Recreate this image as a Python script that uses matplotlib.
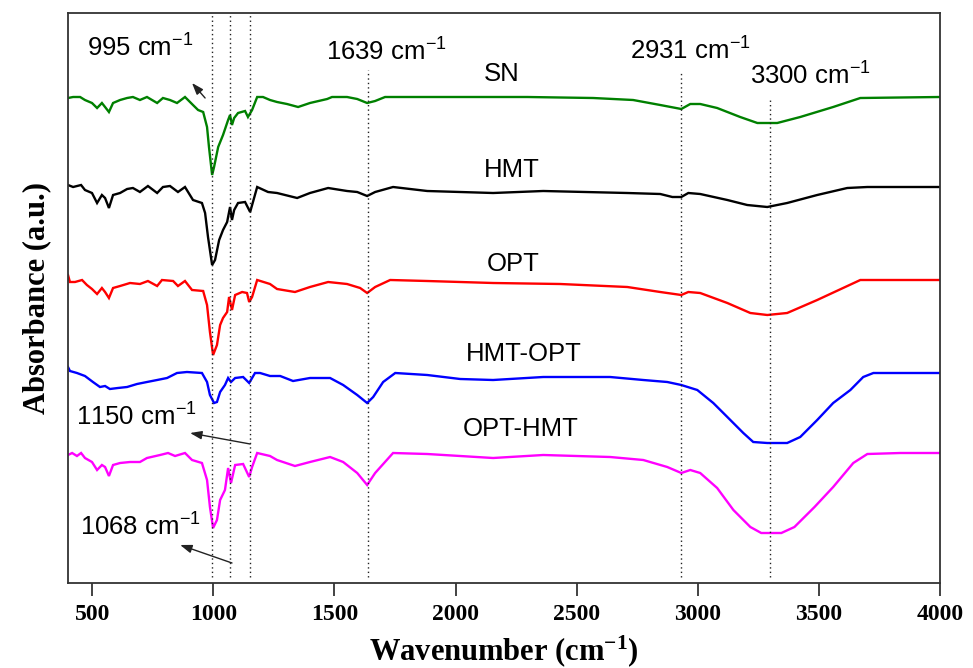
import matplotlib
matplotlib.use("Agg")
import matplotlib.pyplot as plt

# ---------------- data ----------------
SN_wn = [400,421,450,470,499,520,540,553,569,586,615,644,668,697,726,747,768,792,821,850,883,916,937,958,974,982,995,1003,1020,1040,1061,1069,1077,1086,1102,1131,1143,1160,1181,1205,1234,1263,1304,1350,1399,1470,1490,1552,1594,1635,1668,1709,2019,2296,2568,2733,2845,2932,2969,3010,3080,3175,3246,3328,3423,3559,3671,4000]
SN_abs = [4.85,4.86,4.86,4.83,4.80,4.75,4.80,4.76,4.71,4.80,4.83,4.85,4.86,4.83,4.86,4.83,4.80,4.85,4.83,4.80,4.86,4.78,4.73,4.71,4.56,4.36,4.08,4.16,4.36,4.48,4.63,4.68,4.58,4.65,4.70,4.72,4.66,4.73,4.86,4.86,4.83,4.81,4.79,4.76,4.80,4.84,4.86,4.86,4.84,4.80,4.82,4.86,4.86,4.86,4.85,4.83,4.78,4.74,4.79,4.79,4.75,4.66,4.60,4.60,4.66,4.76,4.85,4.86]

HMT_wn = [400,421,454,470,499,520,540,553,569,586,615,644,668,697,730,768,792,821,854,883,916,953,966,978,995,1007,1024,1040,1057,1069,1077,1086,1102,1131,1152,1181,1226,1263,1346,1399,1474,1552,1594,1635,1668,1742,1883,2155,2362,2709,2845,2895,2932,2961,3010,3122,3204,3287,3369,3493,3617,3700,4000]
HMT_abs = [3.98,3.96,3.98,3.93,3.90,3.80,3.88,3.85,3.75,3.88,3.90,3.94,3.95,3.91,3.97,3.90,3.96,3.97,3.91,3.96,3.83,3.80,3.70,3.46,3.18,3.23,3.43,3.53,3.61,3.76,3.63,3.73,3.80,3.81,3.71,3.96,3.91,3.90,3.85,3.90,3.95,3.92,3.91,3.87,3.91,3.96,3.92,3.90,3.92,3.90,3.89,3.86,3.86,3.90,3.89,3.83,3.78,3.76,3.80,3.88,3.95,3.96,3.96]

OPT_wn = [400,408,429,458,478,499,520,540,553,569,586,615,656,697,730,768,788,834,854,883,912,958,974,986,999,1015,1028,1040,1057,1065,1077,1090,1119,1139,1148,1160,1181,1234,1263,1337,1399,1474,1552,1606,1635,1668,1730,1883,2155,2432,2709,2845,2932,2961,3010,3122,3217,3287,3369,3493,3671,4000]
OPT_abs = [3.08,3.01,3.01,3.03,2.98,2.94,2.89,2.95,2.91,2.85,2.95,2.97,3.00,2.99,3.02,2.97,3.03,3.02,2.97,3.02,2.93,2.92,2.78,2.51,2.28,2.38,2.58,2.65,2.71,2.86,2.73,2.88,2.91,2.90,2.81,2.86,3.03,2.99,2.94,2.91,2.96,3.01,2.99,2.95,2.90,2.96,3.03,3.02,3.00,2.99,2.96,2.91,2.88,2.91,2.90,2.80,2.70,2.68,2.70,2.83,3.03,3.03]

HMTOPT_wn = [400,408,437,470,503,532,553,573,606,644,685,726,768,809,850,891,953,974,986,1003,1015,1028,1048,1061,1073,1090,1123,1148,1172,1193,1234,1276,1329,1399,1482,1536,1594,1635,1660,1701,1751,1883,2019,2155,2362,2638,2775,2874,2932,2998,3064,3122,3188,3229,3287,3369,3423,3493,3559,3630,3683,3725,3836,4000]
HMTOPT_abs = [2.16,2.12,2.10,2.07,2.01,1.96,1.97,1.94,1.95,1.96,1.99,2.01,2.03,2.05,2.10,2.11,2.10,2.01,1.88,1.80,1.81,1.91,1.98,2.05,2.01,2.05,2.06,2.00,2.10,2.10,2.07,2.07,2.02,2.05,2.05,1.98,1.88,1.80,1.86,2.01,2.10,2.08,2.04,2.03,2.06,2.06,2.03,2.01,1.98,1.93,1.80,1.66,1.50,1.41,1.40,1.40,1.46,1.63,1.80,1.93,2.06,2.10,2.10,2.10]

OPTHMT_wn = [400,417,437,454,470,499,520,540,553,569,586,615,656,697,726,780,813,842,883,912,953,974,986,999,1015,1028,1048,1061,1073,1090,1123,1148,1160,1181,1234,1263,1337,1399,1482,1536,1594,1635,1668,1742,1883,2155,2362,2638,2775,2874,2932,2969,3010,3080,3147,3217,3262,3345,3399,3482,3559,3642,3700,3836,4000]
OPTHMT_abs = [1.28,1.30,1.27,1.30,1.25,1.21,1.13,1.18,1.16,1.07,1.18,1.20,1.21,1.21,1.25,1.28,1.30,1.27,1.30,1.23,1.20,1.03,0.76,0.55,0.63,0.83,0.93,1.15,1.00,1.18,1.19,1.06,1.16,1.30,1.27,1.23,1.17,1.21,1.26,1.21,1.10,0.98,1.10,1.30,1.29,1.25,1.28,1.26,1.23,1.16,1.10,1.13,1.10,0.95,0.73,0.56,0.50,0.50,0.56,0.76,0.96,1.20,1.29,1.30,1.30]

series_names = ["SN", "HMT", "OPT", "HMT-OPT", "OPT-HMT"]
series_colors = ["#008000", "#000000", "#FF0000", "#0000FF", "#FF00FF"]

# marked bands: wavenumber, line top, line bottom
band_wn = [995, 1068, 1150, 1639, 2931, 3300]
band_top = [5.70, 5.70, 5.70, 5.13, 5.10, 4.83]
band_bottom = [0.06, 0.06, 0.06, 0.06, 0.06, 0.06]

xticks = [500, 1000, 1500, 2000, 2500, 3000, 3500, 4000]

# ---------------- plot ----------------
plt.rcParams['mathtext.default'] = 'regular'
fig = plt.figure(figsize=(9.73, 6.68), dpi=100)
ax = fig.add_axes([68/973, (668-583)/668, 872/973, 570/668])

curves = [(SN_wn, SN_abs), (HMT_wn, HMT_abs), (OPT_wn, OPT_abs),
          (HMTOPT_wn, HMTOPT_abs), (OPTHMT_wn, OPTHMT_abs)]
for (wn, ab), c in zip(curves, series_colors):
    ax.plot(wn, ab, color=c, lw=1.7, solid_joinstyle='miter')

for w, t, b in zip(band_wn, band_top, band_bottom):
    ax.vlines(w, b, t, colors='#222222', linestyles=(0, (1, 2.2)), lw=1.0)

sans = ['Liberation Sans', 'DejaVu Sans']
serif = ['Liberation Serif', 'DejaVu Serif']
fs = 18.5

# curve labels
label_pos = [(2192, 5.09), (2233, 4.13), (2238, 3.19), (2280, 2.29), (2267, 1.54)]
for name, (x, y) in zip(series_names, label_pos):
    ax.text(x, y, name, ha='center', va='center', fontsize=fs, family=sans)

# band labels
ann = [("995 cm$^{-1}$", 697, 5.35), ("1639 cm$^{-1}$", 1713, 5.31),
       ("2931 cm$^{-1}$", 2969, 5.32), ("3300 cm$^{-1}$", 3464, 5.07),
       ("1150 cm$^{-1}$", 681, 1.66), ("1068 cm$^{-1}$", 697, 0.56)]
for s, x, y in ann:
    ax.text(x, y, s, ha='center', va='center', fontsize=fs, family=sans)

# arrows (tail -> head)
arrows = [((966, 4.85), (912, 5.00)), ((1152, 1.39), (904, 1.50)), ((1077, 0.20), (863, 0.38))]
for tail, head in arrows:
    ax.annotate('', xy=head, xytext=tail,
                arrowprops=dict(arrowstyle='-|>,head_length=0.7,head_width=0.25',
                                color='#222222', lw=1.0, shrinkA=0, shrinkB=0))

ax.set_xlim(400, 4000)
ax.set_ylim(0, 5.70)
ax.set_xticks(xticks)
ax.set_yticks([])
ax.tick_params(axis='x', direction='out', length=9, width=1.2, pad=6,
               labelsize=17, colors='#222222')
for lab in ax.get_xticklabels():
    lab.set_family(serif)
    lab.set_fontweight('bold')
    lab.set_color('black')
for sp in ax.spines.values():
    sp.set_linewidth(1.3)
    sp.set_color('#333333')

ax.set_xlabel("Wavenumber (cm$^{-1}$)", fontsize=22, fontweight='bold', family=serif, labelpad=6)
ax.set_ylabel("Absorbance (a.u.)", fontsize=22, fontweight='bold', family=serif, labelpad=12)

fig.savefig("out.png", dpi=100)
